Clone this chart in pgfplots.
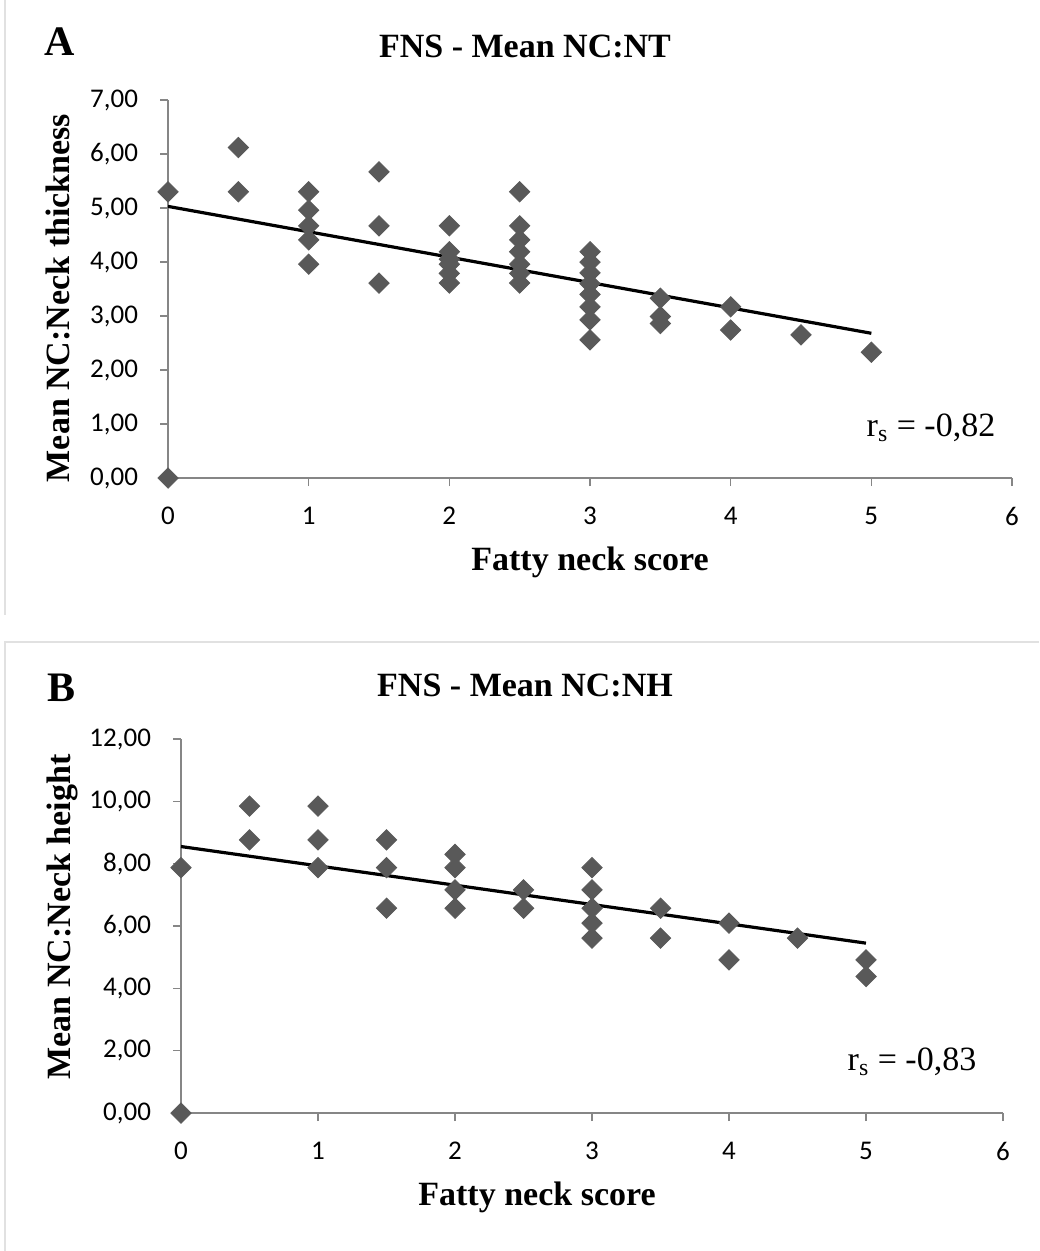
\documentclass[border=0pt]{standalone}
\usepackage{fontspec}
\setmainfont{Liberation Serif}
\newfontfamily\tickfont{Carlito}
\usepackage{pgfplots}
\pgfplotsset{compat=1.18}
\definecolor{markgray}{RGB}{89,89,89}
\definecolor{axgray}{RGB}{134,134,134}
\definecolor{framegray}{RGB}{225,225,225}

\pgfplotsset{
  fnsaxis/.style={
    scale only axis,
    clip=false,
    axis x line*=bottom,
    axis y line*=left,
    axis line style={axgray, line width=0.75pt},
    tick style={axgray, line width=0.75pt},
    tick align=outside,
    major tick length=4pt,
    xmin=0, xmax=6, xtick={0,1,...,6},
    ticklabel style={font=\tickfont\fontsize{13.5}{15}\selectfont, black},
    /pgf/number format/assume math mode=true,
    yticklabel style={/pgf/number format/fixed, /pgf/number format/fixed zerofill,
      /pgf/number format/precision=2, /pgf/number format/use comma, xshift=-7.5pt},
    xticklabel style={yshift=-7pt},
  },
  pts/.style={only marks, mark=square*, mark size=3.6pt,
    mark options={rotate=45, fill=markgray, draw=markgray}},
  trend/.style={black, line width=1.6pt, no marks},
}

\begin{document}
\begin{tikzpicture}
\path[use as bounding box] (0pt,0pt) rectangle (519.5pt,-625.5pt);
% panel frames
\draw[framegray, line width=0.6pt] (2.5pt,0pt) -- (2.5pt,-307.5pt);
\draw[framegray, line width=0.6pt] (2.5pt,-625.5pt) -- (2.5pt,-321pt) -- (519.5pt,-321pt);

% ---------- A ----------
\begin{axis}[fnsaxis, at={(84pt,-239pt)}, anchor=south west,
  width=422pt, height=189pt, ymin=0, ymax=7, ytick={0,1,...,7}]
\addplot[pts] coordinates {
  (0,5.30) (0,0)
  (0.5,6.12) (0.5,5.30)
  (1,5.30) (1,4.96) (1,4.67) (1,4.41) (1,3.96)
  (1.5,5.67) (1.5,4.67) (1.5,3.61)
  (2,4.67) (2,4.19) (2,4.05) (2,3.96) (2,3.79) (2,3.61)
  (2.5,5.30) (2.5,4.67) (2.5,4.41) (2.5,4.19) (2.5,3.96) (2.5,3.79) (2.5,3.61)
  (3,4.19) (3,4.00) (3,3.80) (3,3.60) (3,3.40) (3,3.17) (3,2.93) (3,2.56)
  (3.5,3.33) (3.5,2.99) (3.5,2.86)
  (4,3.17) (4,2.74)
  (4.5,2.65)
  (5,2.33)
};
\addplot[trend] coordinates {(0,5.03) (5,2.68)};
\end{axis}
\node[font=\bfseries\fontsize{21}{24}\selectfont] at (30pt,-21pt) {A};
\node[font=\bfseries\fontsize{17}{20}\selectfont] at (262.5pt,-23pt) {FNS - Mean NC:NT};
\node[font=\bfseries\fontsize{17}{20}\selectfont] at (295pt,-281pt) {Fatty neck score};
\node[font=\bfseries\fontsize{17}{20}\selectfont, rotate=90] at (29pt,-149pt) {Mean NC:Neck thickness};
\node[font=\fontsize{17}{20}\selectfont] at (465.5pt,-214pt) {r$_{\mathrm{s}}$ = -0,82};

% ---------- B ----------
\begin{axis}[fnsaxis, at={(90.5pt,-556.5pt)}, anchor=south west,
  width=411pt, height=187pt, ymin=0, ymax=12, ytick={0,2,...,12}]
\addplot[pts] coordinates {
  (0,7.87) (0,0)
  (0.5,9.85) (0.5,8.76)
  (1,9.85) (1,8.76) (1,7.87)
  (1.5,8.76) (1.5,7.87) (1.5,6.57)
  (2,8.30) (2,7.87) (2,7.16) (2,6.57)
  (2.5,7.16) (2.5,6.57)
  (3,7.87) (3,7.16) (3,6.57) (3,6.09) (3,5.61)
  (3.5,6.57) (3.5,5.61)
  (4,6.09) (4,4.91)
  (4.5,5.61)
  (5,4.91) (5,4.38)
};
\addplot[trend] coordinates {(0,8.55) (5,5.45)};
\end{axis}
\node[font=\bfseries\fontsize{21}{24}\selectfont] at (31pt,-344pt) {B};
\node[font=\bfseries\fontsize{17}{20}\selectfont] at (262.5pt,-342.5pt) {FNS - Mean NC:NH};
\node[font=\bfseries\fontsize{17}{20}\selectfont] at (268.5pt,-598.5pt) {Fatty neck score};
\node[font=\bfseries\fontsize{17}{20}\selectfont, rotate=90] at (31pt,-458.5pt) {Mean NC:Neck height};
\node[font=\fontsize{17}{20}\selectfont] at (456pt,-531pt) {r$_{\mathrm{s}}$ = -0,83};
\end{tikzpicture}
\end{document}
